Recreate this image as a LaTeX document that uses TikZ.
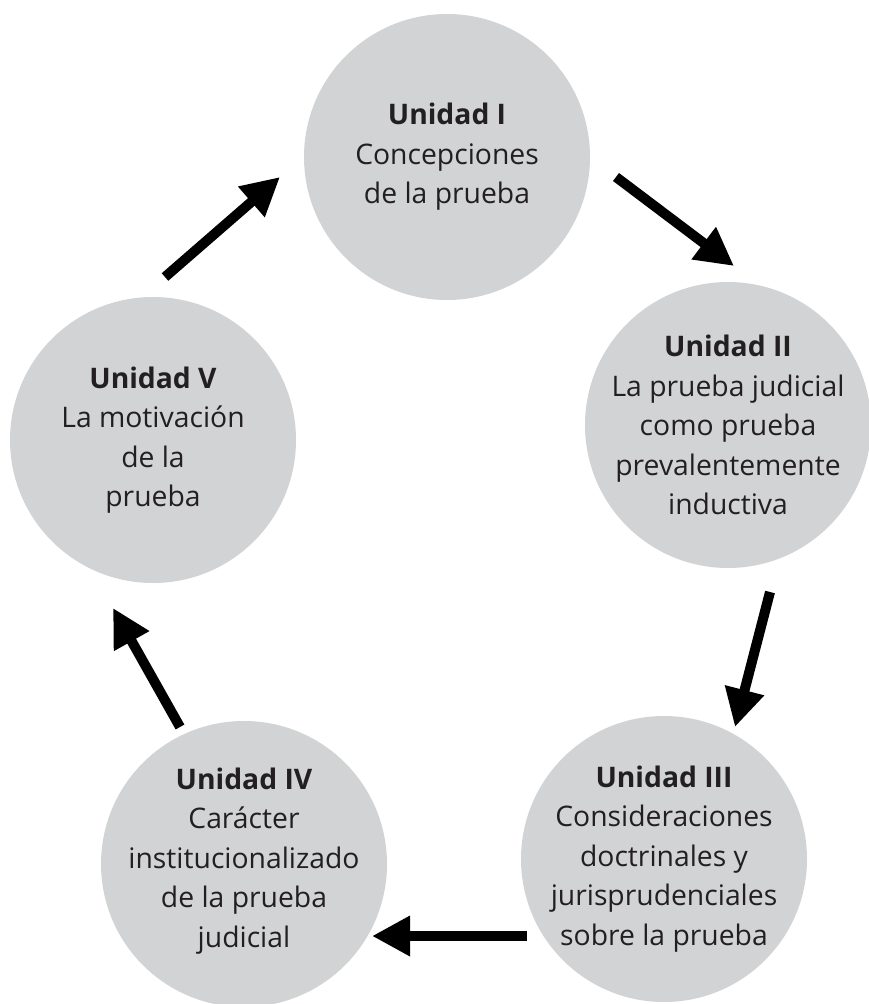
\documentclass[tikz,border=0pt]{standalone}
\usepackage{fontspec}
\setmainfont{Open Sans}
\usetikzlibrary{arrows.meta}
\definecolor{unitgray}{HTML}{D1D3D4}
\definecolor{ink}{HTML}{231F20}
\begin{document}
\begin{tikzpicture}[x=1pt,y=-1pt,
  unit/.style={circle,fill=unitgray,minimum size=286pt,inner sep=0pt},
  unittext/.style={align=center,text=ink,font=\fontsize{28.3}{39.5}\selectfont,inner sep=0pt},
  flow/.style={draw=black,line width=10pt,-{Triangle[length=38pt,width=38pt]}}]
\useasboundingbox (0,0) rectangle (868,1004);
% circles
\node[unit] (I)   at (447,157) {};
\node[unit] (II)  at (728,425) {};
\node[unit] (III) at (664,859) {};
\node[unit] (IV)  at (244,864) {};
\node[unit] (V)   at (153,440) {};
% texts
\node[unittext] (Itx)   at (I)   {\textbf{Unidad I}\\Concepciones\\de la prueba};
\node[unittext] (IItx)  at (II)  {\textbf{Unidad II}\\La prueba judicial\\como prueba\\prevalentemente\\inductiva};
\node[unittext] (IIItx) at (III) {\textbf{Unidad III}\\Consideraciones\\doctrinales y\\jurisprudenciales\\sobre la prueba};
\node[unittext] (IVtx)  at ([yshift=3pt]IV)  {\textbf{Unidad IV}\\Carácter\\institucionalizado\\de la prueba\\judicial};
\node[unittext] (Vtx)   at (V)   {\textbf{Unidad V}\\La motivación\\de la\\prueba};
% arrow ends
\coordinate (a1s) at (616,177); \coordinate (a1e) at (734,266);
\coordinate (a2s) at (770,592); \coordinate (a2e) at (735,727);
\coordinate (a3s) at (527,936); \coordinate (a3e) at (372,936);
\coordinate (a4s) at (180,727); \coordinate (a4e) at (113,608);
\coordinate (a5s) at (165,277); \coordinate (a5e) at (280,177);
\draw[flow] (a1s) -- (a1e);
\draw[flow] (a2s) -- (a2e);
\draw[flow] (a3s) -- (a3e);
\draw[flow] (a4s) -- (a4e);
\draw[flow] (a5s) -- (a5e);
\end{tikzpicture}
\end{document}
